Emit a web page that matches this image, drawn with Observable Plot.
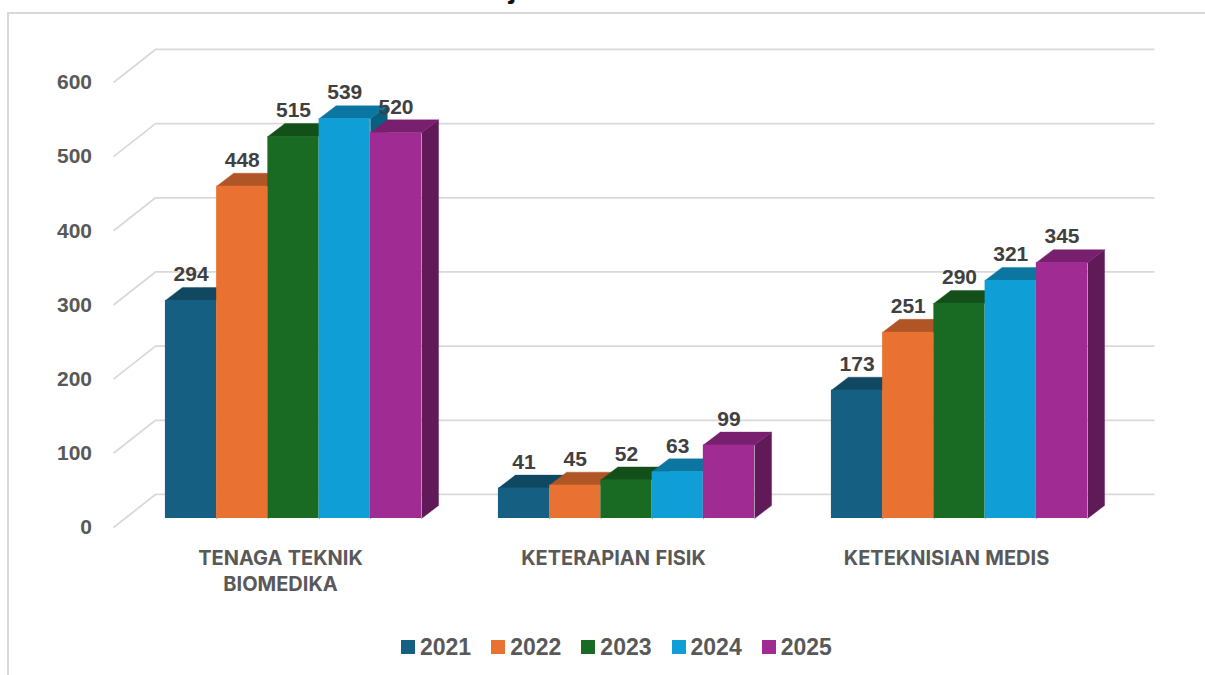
<!DOCTYPE html>
<html>
<head>
<meta charset="utf-8">
<script src="https://cdn.jsdelivr.net/npm/d3@7"></script>
<script src="https://cdn.jsdelivr.net/npm/@observablehq/plot@0.6"></script>
<style>
html,body{margin:0;padding:0;background:#fff;width:1205px;height:675px;overflow:hidden;font-family:"Liberation Sans",Arial,sans-serif;}
#frame{position:absolute;left:7px;top:12px;right:0;bottom:0;border-left:2px solid #d9d9d9;border-top:2px solid #d9d9d9;}
#title{position:absolute;left:291px;top:-26px;font-size:29px;line-height:1;font-weight:700;color:#111;white-space:nowrap;}
#chart{position:absolute;left:0;top:0;}
#legend{position:absolute;left:401px;top:633px;display:flex;gap:20px;align-items:center;height:28px;}
#legend .i{display:flex;align-items:center;gap:5px;font-size:23px;font-weight:700;color:#595959;line-height:1;}
#legend .s{width:14px;height:14px;display:inline-block;}
</style>
</head>
<body>
<div id="frame"></div>
<div id="title">Medis Kota Banjarmasin Tahun 2021- 2025</div>
<div id="chart"></div>
<div id="legend"></div>
<script>
const categories = ["TENAGA TEKNIK\nBIOMEDIKA", "KETERAPIAN FISIK", "KETEKNISIAN MEDIS"];
const years = ["2021", "2022", "2023", "2024", "2025"];
const values2021 = [294, 41, 173];
const values2022 = [448, 45, 251];
const values2023 = [515, 52, 290];
const values2024 = [539, 63, 321];
const values2025 = [520, 99, 345];
const seriesValues = [values2021, values2022, values2023, values2024, values2025];
const frontColors = ["#156082", "#E97132", "#196B24", "#0F9ED5", "#A02B93"];
const topColors = ["#104862", "#AF5526", "#135019", "#0B76A0", "#78206E"];
const sideColors = ["#0C3A4E", "#8C441E", "#0F4016", "#095F80", "#601A58"];
const yTicks = [0, 100, 200, 300, 400, 500, 600];

// Oblique projection, in data units
const barWidth = 1 / 6.5;
const barDepthX = 0.051, barDepthY = 17.5;
const wallFrontX = -0.0405, wallFrontY = -12.1;
const wallBackX = 0.0856, wallBackY = 32.4;
const xMin = -0.5, xMax = 2.5;

const bars = [];
seriesValues.forEach((vals, s) => vals.forEach((v, c) => {
  bars.push({c, s, v, x1: c + (s - 2.5) * barWidth, x2: c + (s - 1.5) * barWidth});
}));
bars.sort((a, b) => a.c - b.c || a.s - b.s);

const barFaces = b => [
  {f: "side", x: b.x2, y: 0},
  {f: "side", x: b.x2 + barDepthX, y: barDepthY},
  {f: "side", x: b.x2 + barDepthX, y: b.v + barDepthY},
  {f: "side", x: b.x2, y: b.v},
  {f: "top", x: b.x1, y: b.v},
  {f: "top", x: b.x1 + barDepthX, y: b.v + barDepthY},
  {f: "top", x: b.x2 + barDepthX, y: b.v + barDepthY},
  {f: "top", x: b.x2, y: b.v}
].map(p => ({...p, col: p.f === "side" ? sideColors[b.s] : topColors[b.s]}));

const wall = yTicks.flatMap(t => [
  {t, x: xMin + wallFrontX, y: t + wallFrontY},
  {t, x: xMin + wallBackX, y: t + wallBackY},
  {t, x: xMax + wallBackX, y: t + wallBackY}
]);

const plot = Plot.plot({
  width: 1205,
  height: 675,
  marginLeft: 126.5,
  marginRight: 79.5,
  marginTop: 73,
  marginBottom: 157,
  style: {background: "transparent", fontFamily: "'Liberation Sans', Arial, sans-serif", overflow: "visible"},
  x: {domain: [xMin, xMax]},
  y: {domain: [0, 600]},
  marks: [
    Plot.line(wall, {x: "x", y: "y", z: "t", stroke: "#d9d9d9", strokeWidth: 1.8, curve: "linear", strokeLinecap: "butt"}),
    ...bars.flatMap(b => [
      Plot.line(barFaces(b), {x: "x", y: "y", z: "f", fill: "col", stroke: "col", strokeWidth: 0.4, curve: "linear"}),
      Plot.rect([b], {x1: "x1", x2: "x2", y1: 0, y2: "v", fill: frontColors[b.s]})
    ]),
    Plot.text(bars, {
      x: d => (d.x1 + d.x2) / 2, y: "v", text: d => String(d.v), dy: -26,
      fontSize: 21, fontWeight: 700, fill: "#404040", lineAnchor: "middle"
    }),
    Plot.axisY(yTicks, {
      anchor: "left", tickSize: 0, tickPadding: 35, dy: 9, label: null,
      fontSize: 21, fontWeight: 700, fill: "#595959"
    }),
    Plot.axisX([0, 1, 2], {
      anchor: "bottom", tickSize: 0, tickPadding: 28, dx: -13, label: null,
      tickFormat: i => categories[i], lineHeight: 1.3,
      fontSize: 20, fontWeight: 700, fill: "#595959", fontFamily: "Inter"
    })
  ]
});
document.getElementById("chart").append(plot);

const legend = document.getElementById("legend");
years.forEach((y, i) => {
  const item = document.createElement("div");
  item.className = "i";
  const sw = document.createElement("span");
  sw.className = "s";
  sw.style.background = frontColors[i];
  const tx = document.createElement("span");
  tx.textContent = y;
  item.append(sw, tx);
  legend.append(item);
});
</script>
</body>
</html>
